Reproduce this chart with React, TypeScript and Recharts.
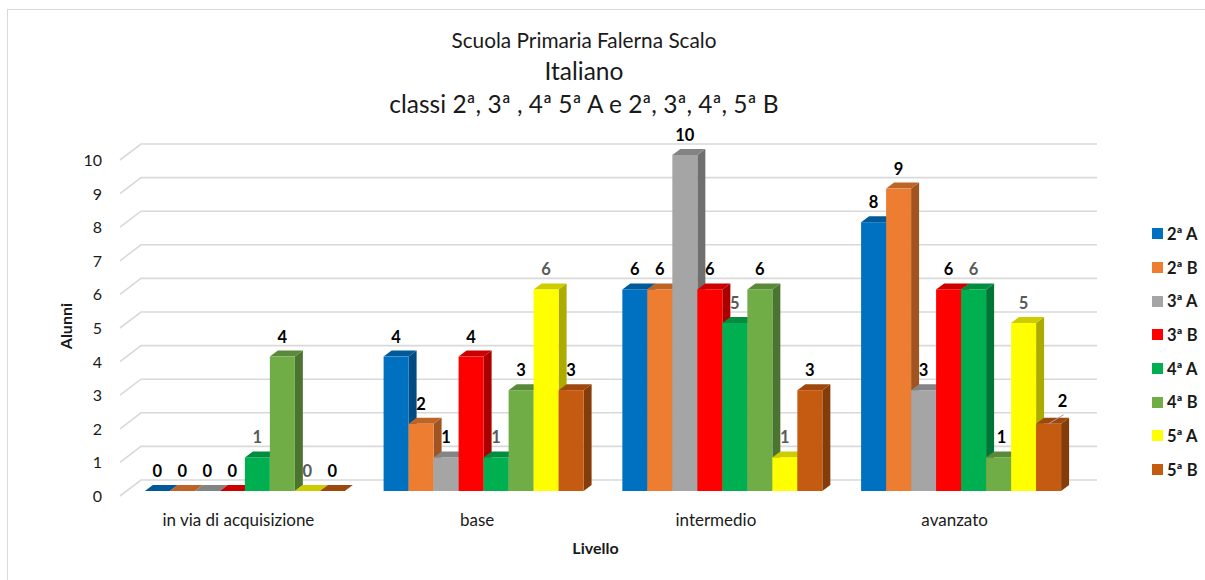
import React from "react";
import { BarChart, Bar, XAxis, YAxis, CartesianGrid, Legend, LabelList, Label } from "recharts";

const categories = ["in via di acquisizione", "base", "intermedio", "avanzato"];
const seriesNames = ["2ª A", "2ª B", "3ª A", "3ª B", "4ª A", "4ª B", "5ª A", "5ª B"];
const a2 = [0, 4, 6, 8];
const b2 = [0, 2, 6, 9];
const a3 = [0, 1, 10, 3];
const b3 = [0, 4, 6, 6];
const a4 = [1, 1, 5, 6];
const b4 = [4, 3, 6, 1];
const a5 = [0, 6, 1, 5];
const b5 = [0, 3, 3, 2];
const seriesValues = [a2, b2, a3, b3, a4, b4, a5, b5];
const yTicks = [0, 1, 2, 3, 4, 5, 6, 7, 8, 9, 10];

const colors = ["#0070C0", "#ED7D31", "#A5A5A5", "#FF0000", "#00B050", "#70AD47", "#FFFF00", "#C55A11"];
const grayLabelSeries = ["4ª A", "5ª A"];
const FONT = "Lato, 'Open Sans', sans-serif";
const DX = 8;
const DY = 6;

const rows = categories.map((c, i) => {
  const row: Record<string, string | number> = { category: c };
  seriesNames.forEach((s, j) => {
    row[s] = seriesValues[j][i];
  });
  return row;
});

function shade(hex: string, k: number) {
  const n = parseInt(hex.slice(1), 16);
  const r = Math.round(((n >> 16) & 255) * k);
  const g = Math.round(((n >> 8) & 255) * k);
  const b = Math.round((n & 255) * k);
  return `rgb(${r},${g},${b})`;
}

function Bar3D(props: any) {
  const { x, y, width: w, height: h, fill } = props;
  return (
    <g>
      <polygon
        points={`${x + w},${y} ${x + w + DX},${y - DY} ${x + w + DX},${y + h - DY} ${x + w},${y + h}`}
        fill={shade(fill, 0.67)}
      />
      <polygon
        points={`${x},${y} ${x + DX},${y - DY} ${x + w + DX},${y - DY} ${x + w},${y}`}
        fill={shade(fill, 0.8)}
      />
      <rect x={x} y={y} width={w} height={h} fill={fill} />
    </g>
  );
}

function GridLine(props: any) {
  const { y1 } = props;
  return (
    <g key={props.key}>
      <polyline
        points={`120,${y1 + 5} 141,${y1 - 11} 1097,${y1 - 11}`}
        fill="none"
        stroke="#D9D9D9"
        strokeWidth={1.6}
      />
    </g>
  );
}

function YTick(props: any) {
  const { y, payload } = props;
  return (
    <text x={102} y={y + 6} dy={5} textAnchor="end" fontFamily={FONT} fontSize={16} fill="#1a1a1a">
      {payload.value}
    </text>
  );
}

function XTick(props: any) {
  const { x, payload } = props;
  return (
    <text x={x - 7} y={526} textAnchor="middle" fontFamily={FONT} fontSize={17} fill="#1a1a1a">
      {payload.value}
    </text>
  );
}

function makeLabel(series: string) {
  return function DataLabel(props: any) {
    const { x, y, width, value, index } = props;
    const gray = grayLabelSeries.includes(series);
    let dx = 0;
    let dy = 0;
    const leader = series === "5ª B" && index === 3;
    if (leader) {
      dx = 14;
      dy = -3;
    }
    if (series === "4ª B" && index === 3) dx = 3;
    const cx = x + width / 2;
    return (
      <g>
        {leader && <line x1={cx} y1={y} x2={cx + 15} y2={y - 9} stroke="#A6A6A6" strokeWidth={1} />}
        <text
          x={cx + dx}
          y={y - 14 + dy}
          textAnchor="middle"
          fontFamily={FONT}
          fontSize={16.5}
          fontWeight={700}
          fill={gray ? "#595959" : "#000000"}
        >
          {value}
        </text>
      </g>
    );
  };
}

function LegendBox(props: any) {
  const items = props.payload || [];
  return (
    <div style={{ fontFamily: FONT }}>
      {items.map((it: any) => (
        <div key={it.value} style={{ height: 33.7, display: "flex", alignItems: "center" }}>
          <span style={{ width: 11, height: 11, background: it.color, display: "inline-block", marginRight: 4 }} />
          <span style={{ fontSize: 16.5, fontWeight: 700, color: "#1a1a1a", whiteSpace: "nowrap" }}>{it.value}</span>
        </div>
      ))}
    </div>
  );
}

const titleLine = (text: string, top: number, size: number) => (
  <div
    style={{
      position: "absolute",
      left: 284,
      width: 600,
      top,
      textAlign: "center",
      fontFamily: FONT,
      fontSize: size,
      lineHeight: `${size + 4}px`,
      color: "#1a1a1a",
    }}
  >
    {text}
  </div>
);

export default function App() {
  return (
    <div style={{ position: "absolute", left: 0, top: 0, width: 1205, height: 580, background: "#fff", overflow: "hidden" }}>
      <div style={{ position: "absolute", left: 7, top: 9, width: 1198, height: 571, borderLeft: "1.5px solid #D9D9D9", borderTop: "1.5px solid #D9D9D9" }} />
      {titleLine("Scuola Primaria Falerna Scalo", 28, 20.8)}
      {titleLine("Italiano", 57, 24.5)}
      {titleLine("classi 2ª, 3ª , 4ª 5ª A e 2ª, 3ª, 4ª, 5ª B", 90, 24.5)}
      <div style={{ position: "absolute", left: 0, top: 0 }}>
        <BarChart
          width={1205}
          height={580}
          data={rows}
          barGap={0}
          barCategoryGap={18.85}
          margin={{ top: 155, right: 74, bottom: 49, left: 96 }}
        >
          <CartesianGrid vertical={false} horizontal={(p: any) => <GridLine {...p} />} />
          <XAxis
            dataKey="category"
            axisLine={false}
            tickLine={false}
            height={40}
            tick={<XTick />}
            interval={0}
          >
            <Label
              value="Livello"
              position="bottom"
              dx={-8}
              dy={7}
              style={{ fontFamily: FONT, fontSize: 16, fontWeight: 700, fill: "#1a1a1a" }}
            />
          </XAxis>
          <YAxis
            width={30}
            domain={[0, 10]}
            ticks={yTicks}
            interval={0}
            axisLine={false}
            tickLine={false}
            tick={<YTick />}
          >
            <Label
              value="Alunni"
              angle={-90}
              position="left"
              dx={-25}
              dy={-20}
              style={{ fontFamily: FONT, fontSize: 16, fontWeight: 700, fill: "#1a1a1a" }}
            />
          </YAxis>
          <Legend
            layout="vertical"
            align="right"
            verticalAlign="top"
            content={<LegendBox />}
            wrapperStyle={{ position: "absolute", left: 1152, top: 217, width: 50 }}
          />
          {seriesNames.map((s, i) => (
            <Bar key={s} dataKey={s} fill={colors[i]} isAnimationActive={false} shape={<Bar3D />}>
              <LabelList dataKey={s} content={makeLabel(s)} />
            </Bar>
          ))}
        </BarChart>
      </div>
    </div>
  );
}
